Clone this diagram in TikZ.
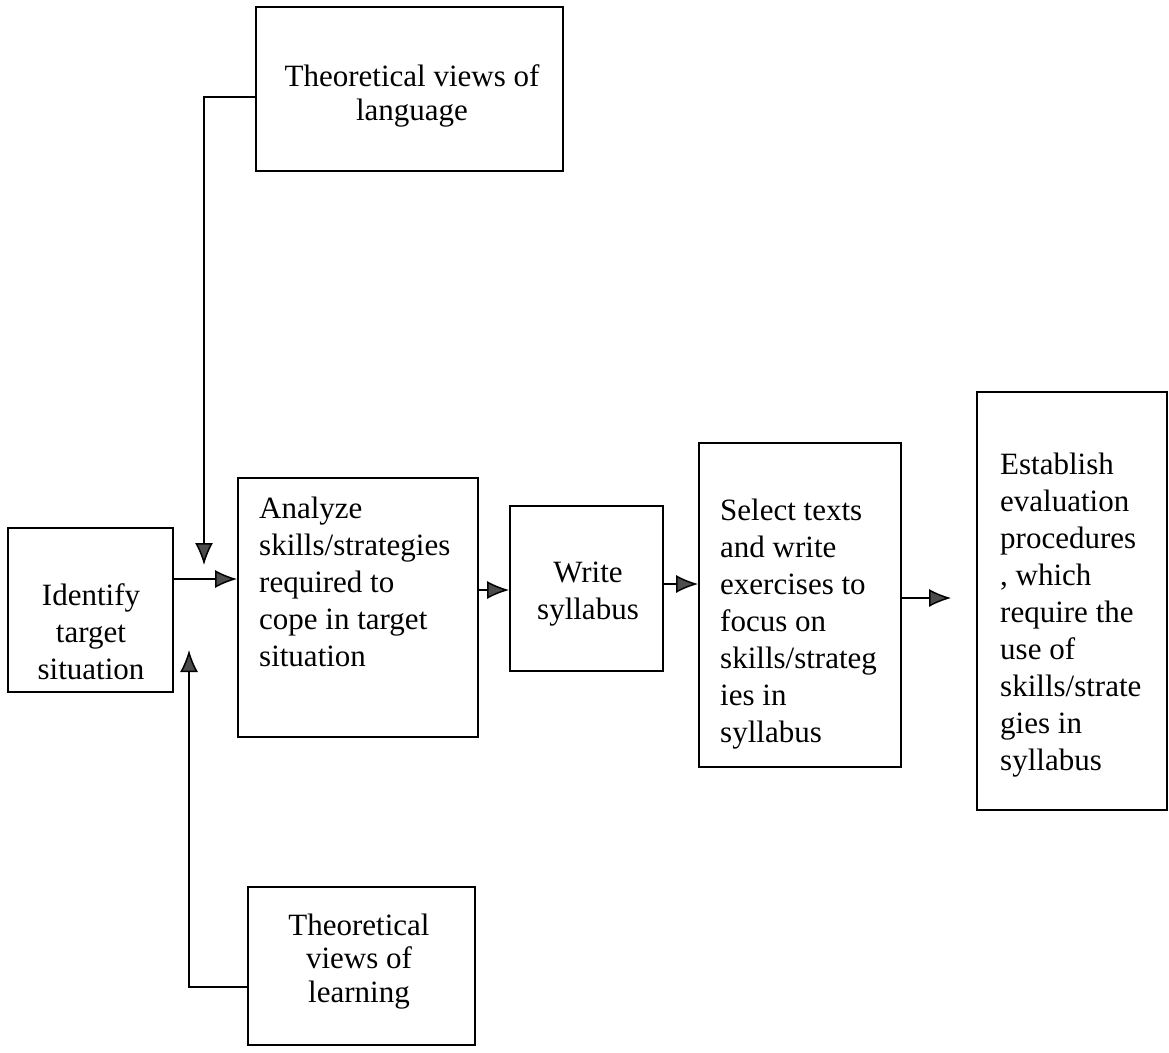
\documentclass[tikz,border=0pt]{standalone}
\usepackage{fontspec}
\setmainfont{Liberation Serif}
\usepackage{tikz}
\usetikzlibrary{arrows.meta}
\tikzstyle{stepbox} = [rectangle, draw=black, line width=1.8pt, inner sep=0pt]
\tikzstyle{boxtext} = [inner sep=0pt, font=\fontsize{31}{37}\selectfont]
\tikzstyle{lefttext} = [boxtext, anchor=base west, align=left]
\tikzstyle{midtext} = [boxtext, anchor=base, align=center]
\tikzstyle{arrow} = [line width=1.5pt, -{Latex[length=22pt,width=18pt,fill=black!70]}]

\begin{document}
\begin{tikzpicture}[x=1pt, y=-1pt]
\useasboundingbox (0,0) rectangle (1169,1052);

\node (viewslang) [stepbox, minimum width=307pt, minimum height=164pt] at (409.5,89) {};
\node (identify) [stepbox, minimum width=165pt, minimum height=164pt] at (90.5,610) {};
\node (analyze) [stepbox, minimum width=240pt, minimum height=259pt] at (358,607.5) {};
\node (writesyl) [stepbox, minimum width=153pt, minimum height=165pt] at (586.5,588.5) {};
\node (selecttexts) [stepbox, minimum width=202pt, minimum height=324pt] at (800,605) {};
\node (establish) [stepbox, minimum width=190pt, minimum height=418pt] at (1072,601) {};
\node (viewslearn) [stepbox, minimum width=227pt, minimum height=158pt] at (361.5,966) {};

\node (viewslangtext) [midtext, font=\fontsize{31}{34}\selectfont] at (412,120) {Theoretical views of\\language};
\node (identifytext) [midtext] at (91,679) {Identify\\target\\situation};
\node (analyzetext) [lefttext] at (259,666) {Analyze\\skills/strategies\\required to\\cope in target\\situation};
\node (writesyltext) [midtext] at (588,619) {Write\\syllabus};
\node (selecttextstext) [lefttext] at (720,742) {Select texts\\and write\\exercises to\\focus on\\skills/strateg\\ies in\\syllabus};
\node (establishtext) [lefttext] at (1000,770) {Establish\\evaluation\\procedures\\, which\\require the\\use of\\skills/strate\\gies in\\syllabus};
\node (viewslearntext) [midtext, font=\fontsize{31}{33.5}\selectfont] at (359,1002) {Theoretical\\views of\\learning};

\coordinate (langin) at (204,565);
\coordinate (learnin) at (189,650);

\draw [arrow] ([yshift=31pt]identify.east) -- ([yshift=31pt]identify.east -| analyze.west);
\draw [arrow] ([yshift=17.5pt]analyze.east) -- ([yshift=17.5pt]analyze.east -| writesyl.west);
\draw [arrow] ([yshift=4.5pt]writesyl.east) -- ([yshift=4.5pt]writesyl.east -| selecttexts.west);
\draw [arrow, shorten >=25pt] ([yshift=7pt]selecttexts.east) -- ([yshift=7pt]selecttexts.east -| establish.west);
\draw [arrow] ([yshift=-8pt]viewslang.west) -| (langin);
\draw [arrow] ([yshift=-21pt]viewslearn.west) -| (learnin);
\end{tikzpicture}
\end{document}
